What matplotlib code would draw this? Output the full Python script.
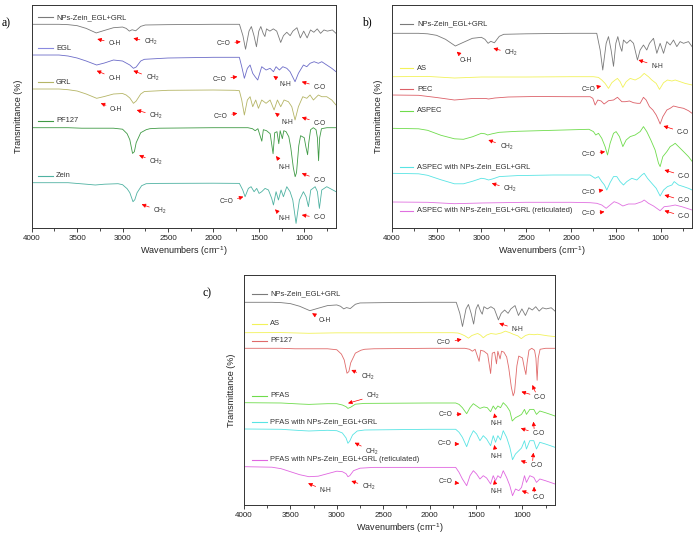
import matplotlib
matplotlib.use('Agg')
import matplotlib.pyplot as plt
import matplotlib.transforms as mtransforms
from matplotlib.ticker import MultipleLocator
import numpy as np

plt.rcParams['font.family'] = ['Liberation Sans', 'DejaVu Sans']
plt.rcParams['mathtext.default'] = 'regular'

# FTIR spectra: wavenumber (cm-1) and band depth
# below the level of each trace at 4000 cm-1 (arbitrary units)
nps_wn = [4000, 3700, 3600, 3500, 3400, 3290, 3200, 3100, 3000, 2960, 2925, 2895, 2855, 2800, 2750, 2500, 2000,
          1760, 1713, 1675, 1646, 1608, 1582, 1553, 1526, 1500, 1478, 1452, 1433, 1415, 1378, 1340, 1303, 1259,
          1229, 1192, 1155, 1125, 1080, 1043, 1006, 968, 931, 894, 857, 820, 783, 745, 690, 650]
nps_depth = [0, 0, 0.5, 2, 6, 12.7, 9, 5, 4, 6, 10, 8, 9.5, 3, 1, 0.5, 0, 0, 0, 16.7, 36.7, 10, 3.3, 16.7, 33, 10,
             3.3, 13.3, 18, 6.7, 10, 6.7, 10, 26.7, 16.7, 11.7, 16.7, 10, 5, 20, 10, 20, 8.3, 11.7, 6.7, 13.3, 8.3,
             10, 8.3, 13.3]

egl_wn = [4000, 3700, 3600, 3500, 3400, 3285, 3200, 3100, 3000, 2960, 2920, 2880, 2850, 2800, 2760, 2500, 2000,
          1760, 1714, 1688, 1659, 1626, 1596, 1567, 1541, 1512, 1468, 1420, 1376, 1339, 1310, 1273, 1236, 1192,
          1156, 1101, 1064, 1009, 972, 936, 891, 844, 807, 752, 697, 650]
egl_depth = [0, 0, 1, 3, 6, 10, 8, 5, 6, 8, 10, 13.3, 12, 6, 4.3, 3, 2.3, 2.3, 2.3, 11.7, 23.3, 13.3, 10, 18.3,
             21.7, 25, 11.7, 15, 13.3, 16.7, 11.7, 15, 11.7, 13.3, 16.7, 26.7, 18.3, 10, 11.7, 8.3, 6.7, 8.3, 6.7,
             10, 13.3, 16.7]

grl_wn = [4000, 3700, 3600, 3500, 3400, 3285, 3200, 3100, 3000, 2960, 2920, 2880, 2850, 2800, 2760, 2500, 2000,
          1760, 1714, 1688, 1659, 1626, 1596, 1567, 1534, 1504, 1468, 1420, 1376, 1332, 1295, 1259, 1222, 1174,
          1137, 1101, 1064, 1016, 972, 936, 899, 844, 807, 752, 697, 650]
grl_depth = [0, 0, 0.7, 2, 5, 9.3, 7.5, 5, 4.5, 6, 9, 14.3, 12, 5, 2.5, 1.3, 1, 1.3, 1.7, 11, 26, 11, 7.7, 17.7,
             11, 19.3, 11, 14.3, 11, 21, 11, 17.7, 11, 12.7, 17.7, 31, 17.7, 7.7, 9.3, 6, 11, 6, 7.7, 7.7, 11, 16]

pf127_wn = [4000, 3600, 3450, 3100, 3000, 2950, 2920, 2890, 2870, 2850, 2800, 2740, 2700, 2600, 2000, 1700, 1620,
            1570, 1540, 1510, 1467, 1450, 1415, 1375, 1343, 1325, 1300, 1280, 1265, 1241, 1225, 1200, 1170, 1148,
            1120, 1100, 1085, 1060, 1040, 1000, 980, 963, 950, 930, 900, 870, 855, 842, 830, 810, 750, 650]
pf127_depth = [0, 0, 0.5, 0.5, 1.5, 6, 12, 25.7, 24, 15, 5, 2, 1, 0.5, 0, 0, 0, 1, 3, 1, 13.5, 2, 3, 6, 26, 5, 4,
               16, 3, 11, 3, 4, 9, 20, 40, 49, 45, 18, 8, 10, 20, 27, 15, 2, 0, 2, 10, 33, 10, 1, 0, 0]

zein_wn = [4000, 3600, 3400, 3300, 3200, 3050, 3000, 2950, 2920, 2885, 2865, 2840, 2790, 2740, 2600, 2000, 1714,
           1677, 1651, 1615, 1585, 1552, 1523, 1497, 1468, 1431, 1394, 1358, 1339, 1310, 1284, 1255, 1229, 1192,
           1156, 1126, 1090, 1053, 1009, 980, 954, 928, 880, 855, 833, 807, 752, 697, 650]
zein_depth = [0, 0, 1.5, 2.3, 1.5, 1, 2, 6, 10, 19, 17, 10, 3, 1, 0.7, 0.5, 0.7, 7.3, 14, 5.7, 4, 9, 5.7, 10.7, 9,
              5.7, 7.3, 15.7, 22.3, 9, 17.3, 7.3, 14, 4, 9, 17.3, 40.7, 17.3, 9, 14, 24, 7.3, 4, 9, 25.7, 7.3, 4,
              6.7, 9]

as_wn = [4000, 3600, 3300, 3000, 2500, 2000, 1750, 1694, 1657, 1620, 1582, 1545, 1508, 1482, 1452, 1422, 1385,
         1340, 1285, 1229, 1184, 1136, 1099, 1050, 1013, 968, 924, 875, 838, 782, 727, 650]
as_depth = [0, -0.3, 1.3, 0.3, 0.3, 0, 0, 0.7, 3.3, 6.7, 11.7, 6, 3.3, 1.7, 5, 10.7, 5, 1.7, 3.3, 0.7, -3.3, 0,
            3.3, 6.7, 12.7, 6, 3.3, 4.3, 3.3, 5, 6.7, 8.3]

pec_wn = [4000, 3700, 3500, 3300, 3100, 2950, 2920, 2850, 2700, 2400, 2000, 1787, 1757, 1731, 1701, 1664, 1631,
          1582, 1526, 1482, 1433, 1396, 1348, 1303, 1259, 1229, 1192, 1162, 1125, 1087, 1050, 1024, 1006, 976,
          931, 894, 857, 801, 745, 690, 650]
pec_depth = [0, 0.3, 2.5, 5, 3.5, 3.5, 4, 3, 2, 1.5, 1.7, 1.7, 3.3, 10, 5, 6, 9, 5.7, 5, 2.3, 6.7, 6.7, 6, 7.7,
             8.3, 8.3, 2.3, 5, 11.7, 15, 20, 25, 29, 21.7, 15, 13.3, 11, 12.3, 13.3, 15.7, 18.3]

aspec_wn = [4000, 3700, 3600, 3450, 3300, 3200, 3100, 3000, 2960, 2930, 2880, 2800, 2600, 2200, 1800, 1750, 1724,
            1694, 1657, 1620, 1593, 1564, 1526, 1497, 1460, 1422, 1385, 1340, 1285, 1229, 1192, 1155, 1110, 1062,
            1024, 1006, 976, 931, 894, 864, 838, 801, 745, 690, 650]
aspec_depth = [0, 0.5, 2, 7, 10.5, 11, 8.5, 5, 5.5, 6.7, 5.5, 4, 3, 2, 1, 3.3, 6.7, 5, 10, 18.3, 26.7, 15, 5, 3.3,
               8.3, 18.3, 11.7, 8.3, 6.7, 3.3, -1.7, 3.3, 11.7, 21.7, 35, 38.3, 28.3, 23.3, 18.3, 16.7, 15, 18.3,
               23.3, 28.3, 33]

aspec_nps_wn = [4000, 3700, 3600, 3450, 3300, 3200, 3100, 3000, 2960, 2920, 2870, 2800, 2600, 2200, 1787, 1731,
                1694, 1657, 1627, 1601, 1564, 1526, 1489, 1452, 1415, 1378, 1322, 1266, 1210, 1184, 1147, 1099,
                1050, 1006, 968, 924, 875, 849, 801, 745, 690, 650]
aspec_nps_depth = [0, 0.5, 2, 6.5, 10.5, 10.5, 8, 5, 5.5, 6.7, 5.5, 3.3, 2.3, 1.7, 1.7, 5, 3.3, 8.3, 11.7, 16.7,
                   9.3, 3.3, 3.3, 8.3, 11.7, 8.3, 5, 6.7, 1.7, 0, 5, 10, 15, 22.7, 16.7, 13.3, 11.7, 8.3, 11.7,
                   13.3, 15, 16.7]

aspec_ret_wn = [4000, 3600, 3300, 3000, 2500, 2000, 1787, 1713, 1657, 1608, 1564, 1519, 1471, 1422, 1359, 1285,
                1210, 1184, 1136, 1080, 1006, 961, 894, 838, 764, 708, 650]
aspec_ret_depth = [0, 0.3, 1.7, 1, 0.3, 0.3, 0.7, 1.3, 3, 6.3, 3, -0.3, 1.3, 4, 2, 2, -0.3, -2, 1.3, 4, 8.7, 4.7,
                   4, 3, 4.7, 6.3, 8]

pfas_wn = [4000, 3600, 3400, 3300, 3100, 3000, 2940, 2900, 2880, 2850, 2800, 2700, 2000, 1719, 1683, 1647, 1601,
           1565, 1529, 1494, 1458, 1415, 1379, 1343, 1315, 1290, 1265, 1236, 1207, 1171, 1136, 1110, 1075, 1039,
           1010, 978, 957, 921, 878, 849, 813, 753, 699, 650]
pfas_depth = [0, 0.3, 1.3, 1.7, 1, 1, 2.3, 4, 5.7, 4.5, 1.5, 0.7, 0.3, 0.3, 1.7, 5, 11, 5, 1, 3.3, 5.7, 4.3, 5, 9,
              3.3, 6.7, 3.3, 5, 0, 3.3, 8.3, 18.3, 15, 13.3, 11.7, 6.7, 11.7, 6.7, 6.7, 11.7, 8.3, 10, 11.7, 13.3]

pfas_nps_wn = [4000, 3600, 3400, 3300, 3100, 3000, 2940, 2900, 2880, 2860, 2830, 2780, 2700, 2000, 1719, 1683,
               1647, 1601, 1565, 1529, 1494, 1458, 1422, 1386, 1343, 1315, 1290, 1265, 1236, 1207, 1171, 1136,
               1107, 1075, 1039, 1010, 978, 957, 921, 878, 849, 813, 753, 699, 650]
pfas_nps_depth = [0, 0.3, 1.5, 2, 1.3, 1.7, 4, 9, 14.3, 12, 6, 2, 1, 0.3, 0.3, 3.3, 8.3, 17.7, 8.3, 1.7, 5, 11.7,
                  6.7, 10, 16.7, 6.7, 13.3, 6.7, 11, 1.7, 8.3, 18.3, 30.7, 25, 21.7, 19, 11.7, 20, 11.7, 11.7, 20,
                  13.3, 15, 16.7, 18.3]

pfas_ret_wn = [4000, 3700, 3600, 3500, 3400, 3300, 3200, 3100, 3000, 2940, 2900, 2880, 2860, 2820, 2750, 2600,
               2000, 1719, 1683, 1647, 1601, 1565, 1529, 1494, 1458, 1422, 1386, 1343, 1315, 1290, 1265, 1236,
               1207, 1171, 1136, 1107, 1075, 1039, 1010, 978, 957, 921, 878, 849, 813, 753, 699, 650]
pfas_ret_depth = [0, 0.5, 2, 5, 8, 10, 9.5, 7, 4.5, 5, 7, 10, 9, 4, 1.5, 0.7, 0.7, 0.7, 5.7, 12.3, 19, 9, 4, 7.3,
                  12.3, 9, 11.3, 17.3, 9, 14, 9, 11.3, 4, 10.7, 19, 29, 22.3, 24, 20.7, 9, 15.7, 9, 10.7, 15.7,
                  12.3, 14, 15.7, 17.3]

labels_a = ['NPs-Zein_EGL+GRL', 'EGL', 'GRL', 'PF127', 'Zein']
labels_b = ['NPs-Zein_EGL+GRL', 'AS', 'PEC', 'ASPEC', 'ASPEC with NPs-Zein_EGL+GRL',
            'ASPEC with NPs-Zein_EGL+GRL (reticulated)']
labels_c = ['NPs-Zein_EGL+GRL', 'AS', 'PF127', 'PFAS', 'PFAS with NPs-Zein_EGL+GRL',
            'PFAS with NPs-Zein_EGL+GRL (reticulated)']

GREY = '#7a7a7a'
TXT = '#333333'
CH2 = 'CH$_2$'

fig = plt.figure(figsize=(6.97, 5.39), dpi=100)
ax_a = fig.add_axes([0.0455, 0.577, 0.4366, 0.4137])
ax_b = fig.add_axes([0.562, 0.577, 0.4309, 0.4137])
ax_c = fig.add_axes([0.350, 0.0631, 0.4462, 0.4267])


def style(ax, top):
    ax.set_xlim(4000, 650)
    ax.set_ylim(0, top)
    ax.xaxis.set_major_locator(MultipleLocator(500))
    ax.xaxis.set_minor_locator(MultipleLocator(250))
    ax.tick_params(axis='x', which='major', direction='out', length=3, width=0.6, labelsize=5.8, pad=2,
                   colors='#222222')
    ax.tick_params(axis='x', which='minor', direction='out', length=2, width=0.5)
    ax.tick_params(axis='y', left=False, labelleft=False)
    for s in ax.spines.values():
        s.set_linewidth(0.7)
        s.set_color('#333333')
    ax.set_xlabel('Wavenumbers (cm$^{-1}$)', fontsize=6.5, labelpad=2, color='#222222')
    ax.set_ylabel('Transmittance (%)', fontsize=6.5, labelpad=6, color='#222222')


def trace(ax, wn, depth, base, scale, color):
    y = base - scale * np.asarray(depth)
    ax.plot(wn, y, color=color, lw=0.6)


def key(ax, label, color, y, x0, x1, xt):
    tr = mtransforms.blended_transform_factory(ax.transAxes, ax.transData)
    ax.plot([x0, x1], [y, y], color=color, lw=0.8, transform=tr)
    ax.text(xt, y, label, transform=tr, fontsize=5.4, color=TXT, va='center', ha='left')


ARROW = dict(arrowstyle='-|>', color='red', lw=0.5, mutation_scale=6, shrinkA=1, shrinkB=0)


def mark(ax, label, head, text, ha='left', extra=None):
    ax.annotate(label, xy=head, xytext=text, ha=ha, va='center', fontsize=4.8, color=TXT, arrowprops=ARROW)
    if extra is not None:
        ax.annotate('', xy=extra, xytext=(text[0] - 20, text[1] + 4), arrowprops=ARROW)


# ---- panel a
style(ax_a, 223)
trace(ax_a, nps_wn, nps_depth, 203.7, 0.68, GREY)
trace(ax_a, egl_wn, egl_depth, 173, 1.0, '#6c6cc8')
trace(ax_a, grl_wn, grl_depth, 139, 1.0, '#b5b566')
trace(ax_a, pf127_wn, pf127_depth, 100.3, 1.0, '#3f9a45')
trace(ax_a, zein_wn, zein_depth, 45.3, 1.0, '#4fb2a2')
for lab, col, y in zip(labels_a, [GREY, '#8a8ae0', '#b5b566', '#3f9a45', '#4fb2a2'],
                       [210.7, 179.7, 146, 107.3, 52.3]):
    key(ax_a, lab, col, y, 0.021, 0.07, 0.08)

mark(ax_a, 'O-H', (3278, 189), (3157, 184.7))
mark(ax_a, CH2, (2881, 189.7), (2764, 185.7))
mark(ax_a, 'C=O', (1699, 186.3), (1809, 184.7), ha='right')
mark(ax_a, 'O-H', (3284, 157.3), (3157, 149.7))
mark(ax_a, CH2, (2881, 157.3), (2746, 149.7))
mark(ax_a, 'C=O', (1736, 151.3), (1853, 149), ha='right')
mark(ax_a, 'N-H', (1340, 152), (1274, 144))
mark(ax_a, 'C-O', (1027, 146.3), (899, 141))
mark(ax_a, 'O-H', (3240, 124.7), (3138, 119))
mark(ax_a, CH2, (2844, 118), (2705, 112))
mark(ax_a, 'C=O', (1736, 114.7), (1842, 112), ha='right')
mark(ax_a, 'N-H', (1321, 115.3), (1255, 106))
mark(ax_a, 'C-O', (1027, 110.7), (899, 105))
mark(ax_a, CH2, (2818, 72.7), (2705, 66))
mark(ax_a, 'N-H', (1310, 72), (1285, 61))
mark(ax_a, 'C-O', (1027, 54.7), (899, 48))
mark(ax_a, CH2, (2790, 23.7), (2661, 17))
mark(ax_a, 'C=O', (1670, 31.3), (1780, 26), ha='right')
mark(ax_a, 'N-H', (1321, 18.7), (1285, 9))
mark(ax_a, 'C-O', (1027, 13), (899, 10))

# ---- panel b
style(ax_b, 223)
trace(ax_b, nps_wn, nps_depth, 194.7, 1.0, GREY)
trace(ax_b, as_wn, as_depth, 151.3, 1.0, '#f2f25a')
trace(ax_b, pec_wn, pec_depth, 133, 1.0, '#dc6068')
trace(ax_b, aspec_wn, aspec_depth, 99.7, 1.0, '#6fdc4c')
trace(ax_b, aspec_nps_wn, aspec_nps_depth, 54.7, 1.0, '#58e4e4')
trace(ax_b, aspec_ret_wn, aspec_ret_depth, 26, 1.0, '#e070e0')
for lab, col, y in zip(labels_b, [GREY, '#f2f25a', '#dc6068', '#6fdc4c', '#58e4e4', '#e070e0'],
                       [204, 160, 139, 117.3, 61.3, 17.3]):
    key(ax_b, lab, col, y, 0.028, 0.07, 0.084)

mark(ax_b, 'O-H', (3275, 176.3), (3238, 168))
mark(ax_b, CH2, (2866, 179.7), (2743, 174.7))
mark(ax_b, 'N-H', (1248, 168), (1106, 162))
mark(ax_b, 'C=O', (1664, 142), (1731, 138.7), ha='right')
mark(ax_b, 'C-O', (969, 102), (820, 95.7))
mark(ax_b, CH2, (2922, 88), (2797, 81.3))
mark(ax_b, 'C=O', (1620, 76.3), (1723, 74), ha='right')
mark(ax_b, 'C-O', (958, 58), (808, 52))
mark(ax_b, CH2, (2884, 44.7), (2754, 39))
mark(ax_b, 'C=O', (1638, 38), (1723, 35.3), ha='right')
mark(ax_b, 'C-O', (958, 33), (808, 27))
mark(ax_b, 'C=O', (1627, 16.3), (1723, 14), ha='right')
mark(ax_b, 'C-O', (958, 17.3), (808, 11.3))

# ---- panel c
style(ax_c, 230)
trace(ax_c, nps_wn, nps_depth, 202.7, 0.66, GREY)
trace(ax_c, as_wn, as_depth, 172.3, 0.47, '#f2f25a')
trace(ax_c, pf127_wn, pf127_depth, 156.7, 0.97, '#e06a6a')
trace(ax_c, pfas_wn, pfas_depth, 102.3, 1.0, '#6fdc4c')
trace(ax_c, pfas_nps_wn, pfas_nps_depth, 76, 1.0, '#58e4e4')
trace(ax_c, pfas_ret_wn, pfas_ret_depth, 38.3, 1.0, '#e066e0')
for lab, col, y in zip(labels_c, [GREY, '#f2f25a', '#e06a6a', '#6fdc4c', '#58e4e4', '#e066e0'],
                       [211, 181, 164, 109, 83.3, 45]):
    key(ax_c, lab, col, y, 0.026, 0.074, 0.084)

mark(ax_c, 'O-H', (3266, 191.7), (3194, 184.3))
mark(ax_c, 'N-H', (1251, 181.7), (1118, 175.7))
mark(ax_c, 'C=O', (1655, 165.7), (1770, 162.3), ha='right')
mark(ax_c, CH2, (2843, 135), (2743, 127.7))
mark(ax_c, 'C-O', (1011, 113.3), (875, 107.7), extra=(893, 120))
mark(ax_c, CH2, (2879, 101.7), (2682, 109))
mark(ax_c, 'C=O', (1655, 91), (1752, 90), ha='right')
mark(ax_c, 'N-H', (1304, 91.7), (1340, 81))
mark(ax_c, 'C-O', (1018, 76.7), (893, 71), extra=(882, 83.3))
mark(ax_c, CH2, (2808, 62.3), (2693, 53.3))
mark(ax_c, 'C=O', (1680, 61), (1763, 61), ha='right')
mark(ax_c, 'N-H', (1304, 60), (1340, 48.3))
mark(ax_c, 'C-O', (1018, 44.3), (911, 39), extra=(882, 52.3))
mark(ax_c, 'N-H', (3309, 21.7), (3184, 14.3))
mark(ax_c, CH2, (2843, 24), (2729, 17.7))
mark(ax_c, 'C=O', (1680, 21.7), (1752, 23.3), ha='right')
mark(ax_c, 'N-H', (1304, 25), (1340, 13.3))
mark(ax_c, 'C-O', (1007, 14.3), (893, 7.7), extra=(875, 18.3))

# panel letters
serif = ['Liberation Serif', 'DejaVu Serif']
fig.text(6 / 697, 1 - 23 / 539, 'a)', family=serif, fontsize=8.5, ha='center', va='center')
fig.text(367 / 697, 1 - 22 / 539, 'b)', family=serif, fontsize=8.5, ha='center', va='center')
fig.text(207 / 697, 1 - 293 / 539, 'c)', family=serif, fontsize=8.5, ha='center', va='center')

fig.savefig('out.png', dpi=100)
